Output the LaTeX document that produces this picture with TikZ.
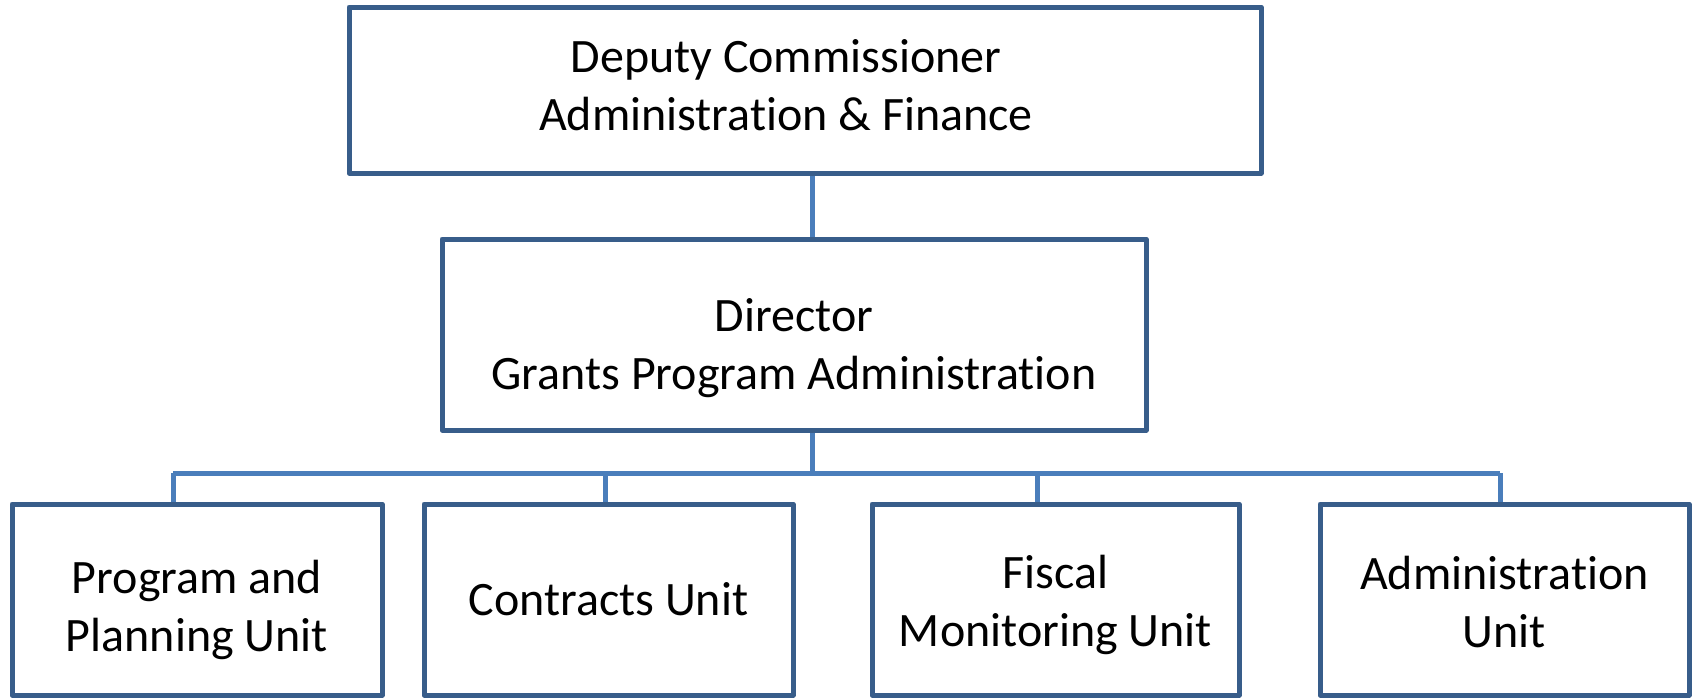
\documentclass[tikz,border=0pt]{standalone}
\usepackage{fontspec}
\setmainfont[Ligatures=NoCommon]{Carlito}
\definecolor{boxblue}{HTML}{385D8A}
\definecolor{linkblue}{HTML}{4A7EBB}
\begin{document}
\begin{tikzpicture}[x=0.5pt,y=-0.5pt,
    unit/.style={draw=boxblue,line width=2.5pt,line join=round,rectangle,
      inner sep=0pt,fill=white},
    unittext/.style={align=center,inner sep=0pt,
      font=\fontsize{24}{29}\selectfont},
    link/.style={draw=linkblue,line width=2.5pt}]

        \useasboundingbox (0,0) rectangle (1692,697);

        % Top level
        \node[unit,minimum width=456pt,minimum height=83pt] (deputy) at (805,90) {};
        \node[unittext] (deputytext) at ([shift={(-19,-5)}]deputy.center)
            {Deputy Commissioner\\Administration \& Finance};

        % Director
        \node[unit,minimum width=352pt,minimum height=95.5pt] (director) at (794,334.5) {};
        \node[unittext] (directortext) at ([shift={(0,14)}]director.center)
            {Director\\Grants Program Administration};

        % Units
        \node[unit,minimum width=185pt,minimum height=95.5pt]   (planning)  at (197,599.5) {};
        \node[unit,minimum width=184.5pt,minimum height=95.5pt] (contracts) at (608.5,599.5) {};
        \node[unit,minimum width=183.5pt,minimum height=95.5pt] (fiscal)    at (1055.5,599.5) {};
        \node[unit,minimum width=184.5pt,minimum height=95.5pt] (admin)     at (1504.5,599.5) {};

        \node[unittext] (planningtext)  at ([shift={(0,10)}]planning.center)  {Program and\\Planning Unit};
        \node[unittext] (contractstext) at (contracts.center)                 {Contracts Unit};
        \node[unittext] (fiscaltext)    at ([shift={(0,5)}]fiscal.center)     {Fiscal\\Monitoring Unit};
        \node[unittext] (admintext)     at ([shift={(0,2)}]admin.center)      {Administration\\Unit};

        % Connectors
        \coordinate (hub)  at (812,473);
        \coordinate (barL) at (173,473);
        \coordinate (barR) at (1500,473);
        \draw[link] (deputy.south -| hub) -- (director.north -| hub);
        \draw[link] (director.south -| hub) -- (hub);
        \draw[link] (barL) -- (barR);
        \foreach \x/\n in {173/planning,605/contracts,1037/fiscal,1500/admin}
            \draw[link] (\x,473) -- (\n.north -| \x,473);

    \end{tikzpicture}
\end{document}
